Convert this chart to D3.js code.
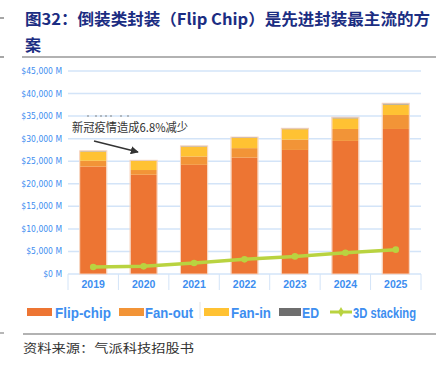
<!DOCTYPE html>
<html><head><meta charset="utf-8">
<script src="https://cdn.jsdelivr.net/npm/d3@7"></script>
<style>body{margin:0;background:#fff}svg{display:block}</style>
</head><body>
<script>
const years = ["2019","2020","2021","2022","2023","2024","2025"];
const flipChip = [23800, 22000, 24200, 25800, 27500, 29500, 32150];
const fanOut   = [1300, 1050, 1850, 2100, 2300, 2650, 3100];
const fanIn    = [2050, 2000, 2200, 2250, 2300, 2350, 2300];
const ed       = [150, 150, 150, 200, 200, 250, 300];
const stacking3D = [1550, 1700, 2450, 3250, 3900, 4700, 5400];
const yTicks = [0,5000,10000,15000,20000,25000,30000,35000,40000,45000];
const seriesNames = ["Flip-chip","Fan-out","Fan-in","ED","3D stacking"];
const colors = {"Flip-chip":"#ED7533","Fan-out":"#F29437","Fan-in":"#FFC233","ED":"#939393","3D stacking":"#B9D340"};

const W=436,H=368;
const svg=d3.select("body").append("svg").attr("width",W).attr("height",H);
const pL=68,pR=421,pT=71,pB=274;
const x=d3.scaleBand().domain(years).range([pL,pR]).paddingInner(0.48).paddingOuter(0.24);
const xb=d3.scaleBand().domain(years).range([pL,pR]);
const y=d3.scaleLinear().domain([0,45000]).range([pB,pT]);
const blue="#3d8ef0";

// title
const tcol="#1b2d82";
svg.append("text").attr("x",25).attr("y",25).attr("font-family","'Noto Sans CJK SC'").attr("font-weight","bold").attr("font-size",16).attr("fill",tcol)
  .attr("textLength",405).attr("lengthAdjust","spacingAndGlyphs").text("图32：倒装类封装（Flip Chip）是先进封装最主流的方");
svg.append("text").attr("x",25).attr("y",51).attr("font-family","'Noto Sans CJK SC'").attr("font-weight","bold").attr("font-size",16).attr("fill",tcol).text("案");
svg.append("line").attr("x1",22).attr("x2",436).attr("y1",57).attr("y2",57).attr("stroke","#666").attr("stroke-width",1.2);
svg.append("line").attr("x1",0).attr("x2",4).attr("y1",18).attr("y2",18).attr("stroke","#888").attr("stroke-width",1.5);
svg.append("line").attr("x1",0).attr("x2",4).attr("y1",57).attr("y2",57).attr("stroke","#888").attr("stroke-width",1.5);

// grid
svg.append("g").selectAll("line").data(yTicks).join("line")
  .attr("x1",pL).attr("x2",pR).attr("y1",d=>y(d)).attr("y2",d=>y(d))
  .attr("stroke","#d3e4f8").attr("stroke-width",1.5);
// y labels
svg.append("g").selectAll("text").data(yTicks).join("text")
  .attr("x",62).attr("y",d=>y(d)+3).attr("text-anchor","end")
  .attr("font-family","'Liberation Sans Narrow','Arial Narrow','DejaVu Sans Condensed',sans-serif").attr("font-size",8.5).attr("fill",blue)
  .text(d=>"$"+d3.format(",")(d)+" M");
// x axis separators
const bounds=years.map(d=>xb(d)).concat([pR]);
svg.append("g").selectAll("line").data(bounds).join("line")
  .attr("x1",d=>d).attr("x2",d=>d).attr("y1",pB).attr("y2",290).attr("stroke","#d3e4f8").attr("stroke-width",1);
svg.append("g").selectAll("text").data(years).join("text")
  .attr("x",d=>xb(d)+xb.bandwidth()/2).attr("y",288).attr("text-anchor","middle")
  .attr("font-family","'Liberation Sans Narrow','Arial Narrow',sans-serif").attr("font-weight","bold").attr("font-size",10.5).attr("fill",blue)
  .text(d=>d);

// stacked bars
const rows=years.map((yr,i)=>({year:yr,"Flip-chip":flipChip[i],"Fan-out":fanOut[i],"Fan-in":fanIn[i],"ED":ed[i]}));
const stack=d3.stack().keys(["Flip-chip","Fan-out","Fan-in","ED"])(rows);
svg.append("g").selectAll("g").data(stack).join("g").attr("fill",d=>colors[d.key])
  .selectAll("rect").data(d=>d).join("rect")
  .attr("x",d=>x(d.data.year)).attr("width",x.bandwidth())
  .attr("y",d=>y(d[1])).attr("height",d=>y(d[0])-y(d[1]));
const tot=d=>d["Flip-chip"]+d["Fan-out"]+d["Fan-in"]+d["ED"];
svg.append("g").selectAll("rect").data(rows).join("rect")
  .attr("x",d=>x(d.year)-0.5).attr("width",x.bandwidth()+1)
  .attr("y",d=>y(tot(d))).attr("height",d=>pB-y(tot(d)))
  .attr("fill","none").attr("stroke","#f7d3bd").attr("stroke-width",1);

// line
const cx=d=>xb(d)+xb.bandwidth()/2;
svg.append("path").datum(years.map((yr,i)=>[cx(yr),y(stacking3D[i])]))
  .attr("d",d3.line()).attr("fill","none").attr("stroke",colors["3D stacking"]).attr("stroke-width",3.5);
svg.append("g").selectAll("circle").data(years).join("circle")
  .attr("cx",d=>cx(d)).attr("cy",(d,i)=>y(stacking3D[i])).attr("r",3.3).attr("fill",colors["3D stacking"]);

// annotation
svg.append("g").selectAll("circle").data([88,96,101,106,111,121,128]).join("circle")
  .attr("cx",d=>d).attr("cy",116).attr("r",0.8).attr("fill","#777");
svg.append("text").attr("x",72).attr("y",132).attr("font-family","'Noto Sans CJK SC'").attr("font-size",12).attr("fill","#333")
  .attr("textLength",116).attr("lengthAdjust","spacingAndGlyphs").text("新冠疫情造成6.8%减少");
svg.append("defs").append("marker").attr("id","ah").attr("viewBox","0 0 10 10").attr("refX",9).attr("refY",5)
  .attr("markerWidth",5).attr("markerHeight",5).attr("orient","auto")
  .append("path").attr("d","M0,0L10,5L0,10z").attr("fill","#333");
svg.append("line").attr("x1",94).attr("y1",141).attr("x2",138).attr("y2",152).attr("stroke","#333").attr("stroke-width",1.6).attr("marker-end","url(#ah)");

// legend
const ly=312;
const legend=[
 {k:"Flip-chip",sx:27,tx:55,tw:56},
 {k:"Fan-out",sx:119,tx:145,tw:48},
 {k:"Fan-in",sx:204,tx:231,tw:40},
 {k:"ED",sx:279,tx:302,tw:17},
 {k:"3D stacking",sx:330,tx:353,tw:63}
];
const lg=svg.append("g");
legend.forEach(l=>{
  if(l.k==="3D stacking"){
    lg.append("line").attr("x1",l.sx).attr("x2",l.sx+22).attr("y1",ly).attr("y2",ly).attr("stroke",colors[l.k]).attr("stroke-width",3);
    lg.append("path").attr("d",d3.symbol(d3.symbolDiamond,30)()).attr("transform",`translate(${l.sx+11},${ly})`).attr("fill",colors[l.k]);
  } else {
    lg.append("rect").attr("x",l.sx).attr("y",ly-4).attr("width",l.k==="ED"?22:25).attr("height",8).attr("fill",l.k==="ED"?"#6e6e6e":colors[l.k]);
  }
  lg.append("text").attr("x",l.tx).attr("y",ly+5.5).attr("font-family","'Liberation Sans',Arial,sans-serif")
    .attr("font-weight","bold").attr("font-size",l.k==="3D stacking"?15:14).attr("fill",blue)
    .attr("textLength",l.tw).attr("lengthAdjust","spacingAndGlyphs").text(l.k);
});
lg.append("line").attr("x1",200).attr("x2",200).attr("y1",302).attr("y2",319).attr("stroke","#e4e4e4");

// source
svg.append("line").attr("x1",23).attr("x2",436).attr("y1",334).attr("y2",334).attr("stroke","#666").attr("stroke-width",1.2);
svg.append("line").attr("x1",0).attr("x2",4).attr("y1",333).attr("y2",333).attr("stroke","#888").attr("stroke-width",1.2);
svg.append("text").attr("x",23).attr("y",353).attr("font-family","'Noto Sans CJK SC'").attr("font-size",12).attr("fill","#333")
  .attr("textLength",171).attr("lengthAdjust","spacingAndGlyphs").text("资料来源：气派科技招股书");
</script>
</body></html>
